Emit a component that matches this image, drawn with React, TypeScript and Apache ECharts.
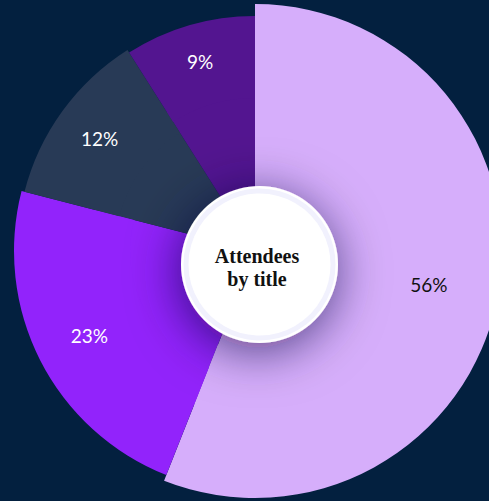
import React, { useEffect, useRef } from "react";
import * as echarts from "echarts";

const categories = ["Title A", "Title B", "Title C", "Title D"];
const values = [56, 23, 12, 9];
const colors = ["#d6aefb", "#9223fb", "#283a56", "#531590"];
const labelColors = ["#111111", "#ffffff", "#ffffff", "#ffffff"];
const outerRadius = [247, 241, 238, 235];
const labelRadius = [174, 183, 189, 194];
const centerTitle = "Attendees\nby title";

export default function App() {
  const ref = useRef<HTMLDivElement>(null);
  useEffect(() => {
    if (!ref.current) return;
    const chart = echarts.init(ref.current, null, { renderer: "svg" });
    const center = [255, 251];

    const base = {
      type: "pie",
      center,
      radius: [0, 165],
      startAngle: 90,
      clockwise: true,
      silent: true,
      avoidLabelOverlap: false,
      z: 1,
      label: { show: false },
      labelLine: { show: false },
      emphasis: { disabled: true },
      data: values.map((v, i) => ({
        name: categories[i],
        value: v,
        itemStyle: { color: colors[i] },
      })),
    };

    const sliceSeries = values.map((_, k) => ({
      type: "pie",
      center,
      radius: [2 * labelRadius[k] - outerRadius[k], outerRadius[k]],
      startAngle: 90,
      clockwise: true,
      silent: true,
      avoidLabelOverlap: false,
      z: 2,
      labelLine: { show: false },
      emphasis: { disabled: true },
      data: values.map((v, i) => ({
        name: categories[i],
        value: v,
        itemStyle: { color: i === k ? colors[i] : "rgba(0,0,0,0)" },
        label: {
          show: i === k,
          position: "inside",
          formatter: (p: any) => Math.round(p.percent) + "%",
          color: labelColors[i],
          fontFamily: "Lato",
          fontSize: 19,
          fontWeight: "normal",
        },
      })),
    }));

    chart.setOption({
      animation: false,
      backgroundColor: "#03203f",
      series: [base, ...sliceSeries],
      graphic: [
        {
          type: "circle",
          z: 100,
          shape: { cx: 259.5, cy: 264.5, r: 78.5 },
          style: {
            fill: "#ffffff",
            shadowBlur: 50,
            shadowColor: "rgba(25,0,60,0.65)",
            shadowOffsetX: -2,
            shadowOffsetY: 8,
          },
          silent: true,
        },
        {
          type: "circle",
          z: 101,
          shape: { cx: 259.5, cy: 264.5, r: 73.5 },
          style: { fill: "#ffffff", stroke: "#f1f1fd", lineWidth: 5 },
          silent: true,
        },
        {
          type: "text",
          z: 102,
          x: 257,
          y: 267.5,
          style: {
            text: centerTitle,
            align: "center",
            verticalAlign: "middle",
            fontFamily: "Liberation Serif",
            fontWeight: "bold",
            fontSize: 20,
            lineHeight: 23,
            fill: "#111111",
          },
          silent: true,
        },
      ],
    });
    return () => chart.dispose();
  }, []);
  return (
    <div
      ref={ref}
      style={{ position: "fixed", left: 0, top: 0, width: 489, height: 501 }}
    />
  );
}
